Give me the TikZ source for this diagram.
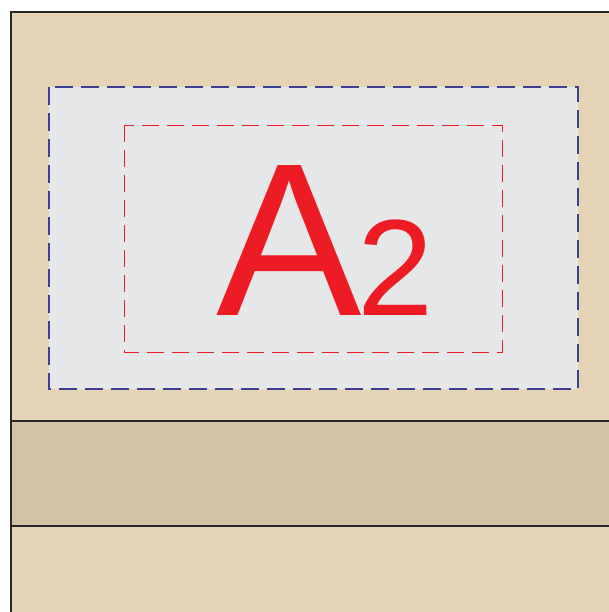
\documentclass[tikz,border=0pt]{standalone}
\usepackage{fontspec}
\setmainfont{Liberation Sans}
\definecolor{beige}{HTML}{E4D4B5}
\definecolor{band}{HTML}{D1C3A5}
\definecolor{panel}{HTML}{E6E7E8}
\definecolor{blueline}{HTML}{3D3F94}
\definecolor{redline}{HTML}{ED1C24}
\tikzset{
  frame/.style={draw=black!85, line width=1.3pt},
  outerdash/.style={draw=blueline, line width=1.2pt, dash pattern=on 18pt off 8pt},
  innerdash/.style={draw=redline, line width=0.9pt, dash pattern=on 17pt off 8pt},
  label/.style={text=redline, inner sep=0pt, anchor=base west}
}
\begin{document}
\begin{tikzpicture}[x=1pt,y=1pt]
\useasboundingbox (0,0) rectangle (609,-612);
\clip (0,0) rectangle (609,-612);
\fill[white] (0,0) rectangle (609,-612);
\path[fill=beige, frame] (11,-12) rectangle (615,-620);
\path[fill=band, frame] (11,-421) rectangle (615,-526);
\path[fill=panel, outerdash] (49,-87) rectangle (578,-389);
\path[innerdash] (124,-125) rectangle (502,-352);
\node[label, font=\fontsize{218}{218}\selectfont] (a) at (216,-315) {A};
\node[label, font=\fontsize{137}{137}\selectfont] (two) at (357,-315) {2};
\end{tikzpicture}
\end{document}
